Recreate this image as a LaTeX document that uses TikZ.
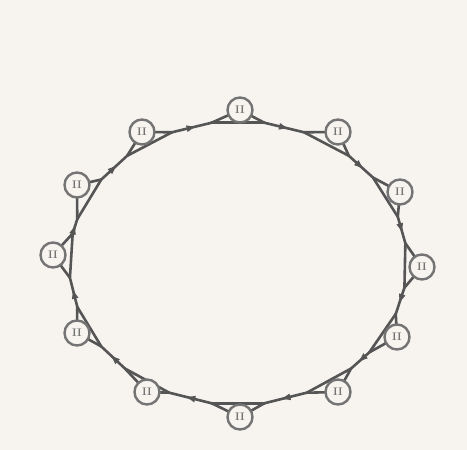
\documentclass[tikz,border=0pt]{standalone}
\usetikzlibrary{calc,arrows.meta}
\definecolor{paper}{HTML}{F7F4EF}
\definecolor{ink}{HTML}{555555}
\definecolor{ring}{HTML}{747474}
\begin{document}
\begin{tikzpicture}[x=1pt,y=1pt,
  rope/.style={draw=ink,line width=2.6pt,line join=round,line cap=round},
  person/.style={circle,draw=ring,line width=2.4pt,fill=paper,minimum size=25pt,inner sep=0pt,font=\fontsize{11}{11}\selectfont\bfseries,text=ring},
  tip/.style={-{Latex[length=10pt,width=7pt]}}]
\useasboundingbox (0,0) rectangle (467,450);
\fill[paper] (0,0) rectangle (467,450);
\coordinate (O) at (238,187);
\foreach \i/\x/\y/\p in {1/240/340/90, 2/338/318/58, 3/400/258/28, 4/422/183/-1,
  5/397/113/-30, 6/338/58/-57, 7/240/33/-90, 8/147/58/-123, 9/77/117/-153,
  10/53/195/177, 11/77/265/153, 12/142/318/122} {
  \coordinate (A\i) at ($(O)+(\p+9:169pt and 142pt)$);
  \coordinate (B\i) at ($(O)+(\p-9:169pt and 142pt)$);
  \coordinate (C\i) at (\x,\y);
}
\foreach \i/\j in {1/2,2/3,3/4,4/5,5/6,6/7,7/8,8/9,9/10,10/11,11/12,12/1} {
  \draw[rope] (B\i) -- (A\j);
  \draw[ink,line width=1.2pt,tip] (B\i) -- ($(B\i)!0.62!(A\j)$);
}
\foreach \i in {1,...,12} {
  \draw[rope] (A\i) -- (B\i);
  \draw[rope] (A\i) -- (C\i) -- (B\i);
  \node[person] (P\i) at (C\i) {II};
}
\end{tikzpicture}
\end{document}
